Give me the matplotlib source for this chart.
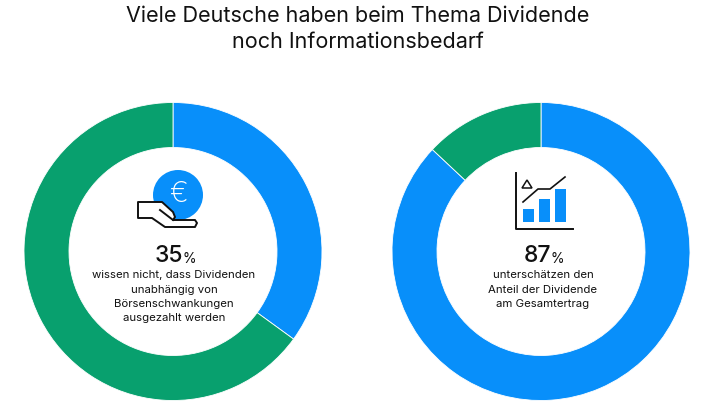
import matplotlib
matplotlib.use("Agg")
import matplotlib.pyplot as plt
from matplotlib.patches import Circle, Polygon, Rectangle

plt.rcParams['font.family'] = ['Inter', 'DejaVu Sans']

title_lines = ["Viele Deutsche haben beim Thema Dividende", "noch Informationsbedarf"]
left_shares = [35, 65]
right_shares = [87, 13]
left_label = "35"
right_label = "87"
left_caption = ["wissen nicht, dass Dividenden", "unabhängig von", "Börsenschwankungen", "ausgezahlt werden"]
right_caption = ["unterschätzen den", "Anteil der Dividende", "am Gesamtertrag"]
icon_bars = [13, 23, 33]
BLUE = "#088ffa"
GREEN = "#08a06e"
INK = "#111111"

fig = plt.figure(figsize=(7.10, 4.03), dpi=100)
ax = fig.add_axes([0, 0, 1, 1])

# The y axis is inverted below, so the pies run counterclockwise from -90 to appear clockwise from the top.
ax.pie(left_shares, colors=[BLUE, GREEN], startangle=-90, counterclock=True,
       center=(173, 251.5), radius=149,
       wedgeprops=dict(width=45, edgecolor="white", linewidth=0.6))
ax.pie(right_shares, colors=[BLUE, GREEN], startangle=-90, counterclock=True,
       center=(541, 251.5), radius=149,
       wedgeprops=dict(width=45, edgecolor="white", linewidth=0.6))
ax.set_xlim(0, 710)
ax.set_ylim(403, 0)
ax.set_aspect("equal")
ax.axis("off")

for y, line in zip([16, 42], title_lines):
    ax.text(358, y, line, ha="center", va="center", fontsize=15.5, color=INK)

# left icon
ax.add_patch(Circle((178, 195), 25, color=BLUE, lw=0))
ax.text(179, 195, "€", ha="center", va="center", fontsize=20, color="white", fontweight="light")
hand = [(138, 202), (162, 202), (173, 212), (175, 217), (173, 220), (195, 220),
        (197, 223), (195, 227), (165, 227), (152, 218), (138, 218)]
ax.add_patch(Polygon(hand, closed=True, fc="white", ec=INK, lw=1.4, joinstyle="round"))
ax.plot([160, 173], [210, 220], color=INK, lw=1.4)

# right icon
ax.plot([516, 516, 573], [173, 229, 229], color=INK, lw=1.4)
for x, h in zip([523, 539, 555], icon_bars):
    ax.add_patch(Rectangle((x, 222 - h), 11, h, color=BLUE, lw=0))
ax.plot([523, 538, 550, 565], [202, 189, 189, 177], color=INK, lw=1.2)
ax.add_patch(Polygon([(522, 188), (532, 188), (527, 180)], closed=True, fill=False, ec=INK, lw=1.1))

# numbers and captions
ax.text(183, 256, left_label, ha="right", va="center", fontsize=16.5, color=INK, fontweight="medium")
ax.text(182.5, 259, "%", ha="left", va="center", fontsize=10, color=INK)
ax.text(551, 256, right_label, ha="right", va="center", fontsize=16.5, color=INK, fontweight="medium")
ax.text(550.5, 259, "%", ha="left", va="center", fontsize=10, color=INK)
for y, line in zip([275, 290, 304, 318], left_caption):
    ax.text(174, y, line, ha="center", va="center", fontsize=8.2, color=INK)
for y, line in zip([275, 290, 304], right_caption):
    ax.text(543, y, line, ha="center", va="center", fontsize=8.2, color=INK)

fig.savefig("out.png", dpi=100, facecolor="white")
